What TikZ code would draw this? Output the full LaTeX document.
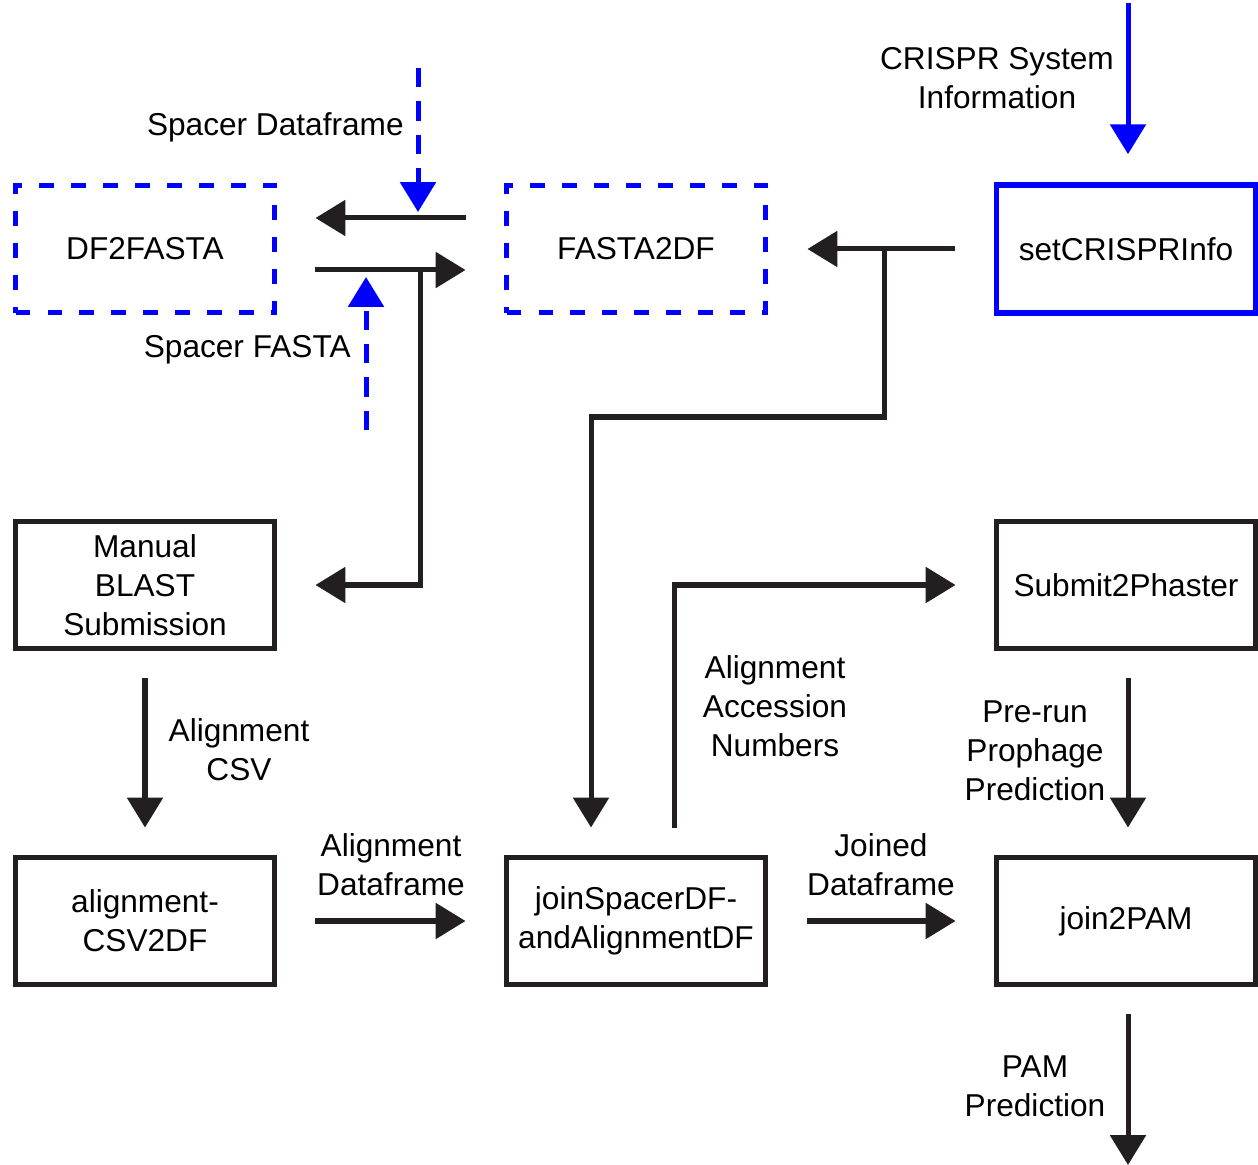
\documentclass[tikz,border=0pt]{standalone}
\usepackage{fontspec}
\setmainfont{Liberation Sans}
\usetikzlibrary{arrows.meta,calc}
\definecolor{ink}{HTML}{231F20}
\definecolor{pblue}{HTML}{0000FF}
\begin{document}
\begin{tikzpicture}[x=0.02cm,y=-0.02cm,
  every node/.style={font=\fontsize{18pt}{22.2pt}\selectfont, text=black},
  box/.style={draw=ink, line width=2.85pt, minimum width=5.18cm, minimum height=2.56cm, align=center, inner sep=0pt},
  dbox/.style={box, draw=pblue, dash pattern=on 8.5pt off 9.7pt},
  bbox/.style={box, draw=pblue, line width=3.2pt},
  lbl/.style={align=center, inner sep=0pt},
  arr/.style={draw=ink, line width=2.85pt, line join=miter, -{Triangle[length=17pt,width=20pt]}},
  barr/.style={arr, draw=pblue},
  darr/.style={barr, dash pattern=on 11pt off 8pt}
]
\useasboundingbox (0,0) rectangle (1258,1165);

% boxes
\node[dbox] (df) at (145,249) {DF2FASTA};
\node[dbox] (fasta) at (636,249) {FASTA2DF};
\node[bbox] (crispr) at (1126,249) {setCRISPRInfo};
\node[box] (blast) at (145,585) {Manual\\BLAST\\Submission};
\node[box] (phaster) at (1126,585) {Submit2Phaster};
\node[box] (align) at (145,921) {alignment-\\CSV2DF};
\node[box] (join) at (636,921) {joinSpacerDF-\\andAlignmentDF};
\node[box] (pam) at (1126,921) {join2PAM};

% free-end coordinates
\coordinate (sdfTop) at (418,68);
\coordinate (sdfTip) at (418,212);
\coordinate (sfaBot) at (366,430);
\coordinate (sfaTip) at (366,277);
\coordinate (crTop) at (1128,3);
\coordinate (pamOut) at (1128,1165);

% black connectors
\draw[arr] ($(fasta.west)+(-38.5,-31)$) -- ($(df.east)+(38.5,-31)$);
\draw[arr] ($(df.east)+(38.5,21)$) -- ($(fasta.west)+(-38.5,21)$);
\draw[arr] ($(df.east)+(143.5,21)$) |- ($(blast.east)+(38.5,0)$);
\draw[arr] ($(crispr.west)+(-38.5,0)$) -- ($(fasta.east)+(39.5,0)$);
\draw[arr] ($(fasta.east)+(116.5,0)$) -- ++(0,168) -| ($(join.north)+(-45,-27)$);
\draw[arr] ($(join.north)+(38,-27)$) |- ($(phaster.west)+(-38.5,0)$);
\draw[arr] ($(blast.south)+(0,27)$) -- ($(align.north)+(0,-27)$);
\draw[arr] ($(align.east)+(38.5,0)$) -- ($(join.west)+(-38.5,0)$);
\draw[arr] ($(join.east)+(39.5,0)$) -- ($(pam.west)+(-38.5,0)$);
\draw[arr] ($(phaster.south)+(2,27)$) -- ($(pam.north)+(2,-27)$);
\draw[arr] ($(pam.south)+(2,27)$) -- (pamOut);

% blue connectors
\draw[barr] (crTop) -- ($(crispr.north)+(2,-28)$);
\draw[darr] (sdfTop) -- (sdfTip);
\draw[darr] (sfaBot) -- (sfaTip);

% labels
\node[lbl, anchor=east] (lsdf) at (404,127) {Spacer Dataframe};
\node[lbl, anchor=east] (lsfa) at (351,350) {Spacer FASTA};
\node[lbl] (lcr) at (997,78) {CRISPR System\\Information};
\node[lbl] (lcsv) at (239,750) {Alignment\\CSV};
\node[lbl] (lacc) at (775,706) {Alignment\\Accession\\Numbers};
\node[lbl] (lpro) at (1035,751) {Pre-run\\Prophage\\Prediction};
\node[lbl] (ladf) at (391,865) {Alignment\\Dataframe};
\node[lbl] (ljdf) at (881,865) {Joined\\Dataframe};
\node[lbl] (lpam) at (1035,1086) {PAM\\Prediction};
\end{tikzpicture}
\end{document}
